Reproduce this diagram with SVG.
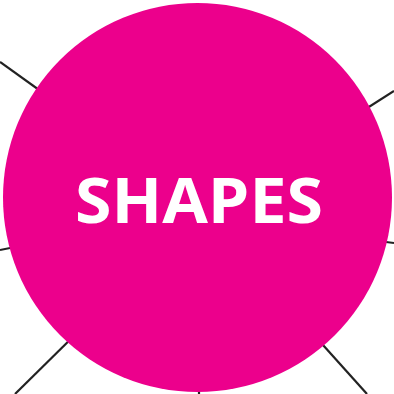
<svg xmlns="http://www.w3.org/2000/svg" width="394" height="394" viewBox="0 0 394 394">
<style>
.conn{stroke:#222;stroke-width:2.2;fill:none}
.hub{fill:#EC008C}
.lbl{font-family:"Open Sans","DejaVu Sans",sans-serif;font-weight:bold;fill:#fff}
</style>
<rect width="394" height="394" fill="#fff"/>
<g id="connectors">
<line class="conn" x1="0" y1="62" x2="60" y2="105"/>
<line class="conn" x1="394" y1="91" x2="350" y2="119"/>
<line class="conn" x1="0" y1="250" x2="30" y2="244"/>
<line class="conn" x1="394" y1="243" x2="370" y2="240"/>
<line class="conn" x1="15" y1="394" x2="85" y2="325"/>
<line class="conn" x1="199" y1="394" x2="199" y2="370"/>
<line class="conn" x1="367" y1="394" x2="305" y2="325"/>
</g>
<g id="shapes">
<circle class="hub" cx="197.5" cy="197.5" r="194.5"/>
<text class="lbl" x="199" y="223" font-size="62" text-anchor="middle" textLength="248" lengthAdjust="spacingAndGlyphs">SHAPES</text>
</g>
</svg>
